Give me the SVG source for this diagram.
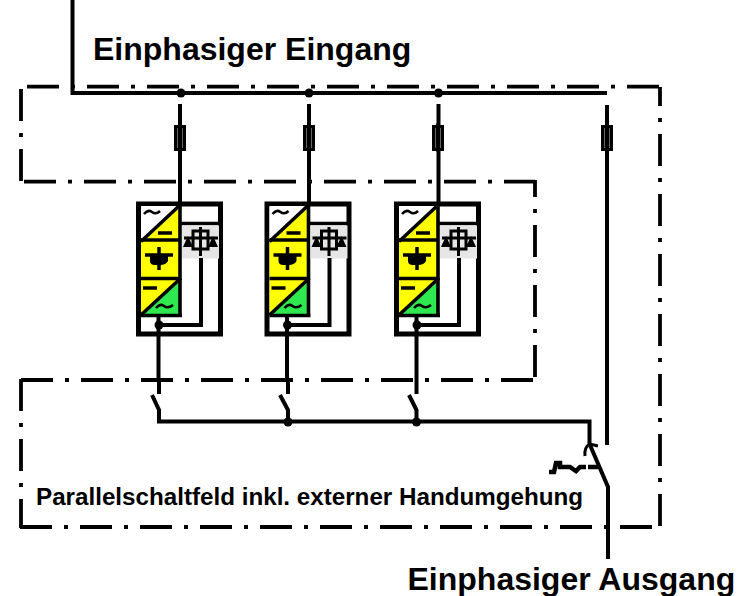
<svg xmlns="http://www.w3.org/2000/svg" xmlns:xlink="http://www.w3.org/1999/xlink" width="741" height="596" viewBox="0 0 741 596">
<style>
text{font-family:"Liberation Sans",Arial,sans-serif;font-weight:bold;fill:#000}
.w{fill:none;stroke:#000;stroke-width:4;stroke-linejoin:miter}
.t{fill:none;stroke:#000;stroke-width:3}
.b{fill:none;stroke:#000;stroke-width:3.800;stroke-dasharray:32 12 4 12}
.d{fill:#000}
</style>
<defs>
<g id="fuse"><rect x="-4.500" y="-11" width="9" height="23" fill="#666" stroke="#000" stroke-width="3"/><path d="M0 -14V14" stroke="#000" stroke-width="4"/></g>
<g id="ups">
<rect x="138.500" y="204" width="82" height="130" fill="#fff" stroke="#000" stroke-width="5"/>
<rect x="141" y="206" width="38" height="35" fill="#fff"/>
<polygon points="141,241 179,206 179,241" fill="#ff0"/>
<rect x="141" y="241" width="38" height="38" fill="#ff0"/>
<rect x="141" y="279" width="38" height="36" fill="#ff0"/>
<polygon points="141,315 179,279 179,315" fill="#2fe84f"/>
<path d="M141 241.500L179 206M141 315L181 278" fill="none" stroke="#000" stroke-width="3.500"/>
<path d="M141 240H180M141 278.500H180M141 315.500H182M180 206V317M180 223.500H220" fill="none" stroke="#000" stroke-width="3.600"/>
<rect x="182" y="225.500" width="37" height="33" fill="#e6e6e6"/>
<path d="M144 214q4-5 8-2t8-1M156 308q4-5 8-2t9-1" fill="none" stroke="#000" stroke-width="2.500"/>
<path d="M158 233h14M143 288h14" fill="none" stroke="#000" stroke-width="3.500"/>
<path d="M145 255H173M159 247V270" fill="none" stroke="#000" stroke-width="3.500"/>
<path d="M150 256H168V261Q166 265 160 265H155Q150 265 150 261Z" fill="#000"/>
<path d="M200.500 227V256M184 238H218M193 231H208V249H193Z" fill="none" stroke="#000" stroke-width="3"/>
<path d="M188 236l-5 11h10ZM213 236l-5 11h10Z" fill="#000"/>
<path d="M201 258V325H159" fill="none" stroke="#000" stroke-width="4"/>
<circle cx="159" cy="325" r="4.500" fill="#000"/>
<path d="M158.500 315V380" fill="none" stroke="#000" stroke-width="4"/>
</g>
</defs>
<g id="boundary">
<path class="b" d="M27 86.700H660"/>
<path class="b" stroke-dashoffset="13" d="M660 87V527"/>
<path class="b" d="M20 527H655"/>
<path class="b" d="M21 89V182"/>
<path class="b" d="M24 181.700H535"/>
<path class="b" stroke-dashoffset="15" d="M535 180V380"/>
<path class="b" d="M21 380H535"/>
<path class="b" d="M21 379V528"/>
</g>
<g id="connectors">
<path class="w" d="M72.500 0V93H607"/>
<path class="w" d="M180 93V204M309 93V204M438.500 93V204"/>
<path d="M178 96V104h4V96zM307 96v8h4v-8zM436 96v8h5v-8z" fill="#fff"/>
<path class="w" d="M607 105V445"/>
<path class="w" d="M159 380V394M288 380V394M416.500 380V394"/>
<path class="w" d="M152 395L159 410V421.500H589.500V445"/>
<path class="w" d="M280 395L288 410V421M409 395L416.500 410V421"/>
<path class="w" d="M590 445L608 487V559"/>
<path class="t" d="M585 456Q584 447 590 444L598 446"/>
<path class="w" style="stroke-width:4.500" d="M549 472H554L556 463H560V467H570L576 471L580 467H586M588 467H598"/>
<circle class="d" cx="181" cy="93" r="4.500"/>
<circle class="d" cx="309" cy="93" r="4.500"/>
<circle class="d" cx="438.500" cy="93" r="4.500"/>
<circle class="d" cx="288" cy="422" r="4.500"/>
<circle class="d" cx="416.500" cy="422" r="4.500"/>
</g>
<g id="fuse1"><use xlink:href="#fuse" x="180" y="137.500"/></g>
<g id="fuse2"><use xlink:href="#fuse" x="309" y="137.500"/></g>
<g id="fuse3"><use xlink:href="#fuse" x="438" y="137.500"/></g>
<g id="fuse4"><use xlink:href="#fuse" x="607" y="137.500"/></g>
<g id="ups1"><use xlink:href="#ups"/></g>
<g id="ups2"><use xlink:href="#ups" x="128.500"/></g>
<g id="ups3"><use xlink:href="#ups" x="258"/></g>
<text x="93" y="59.500" font-size="32">Einphasiger Eingang</text>
<text x="36" y="504.500" font-size="24.200">Parallelschaltfeld inkl. externer Handumgehung</text>
<text x="407.500" y="589.500" font-size="32">Einphasiger Ausgang</text>
</svg>
